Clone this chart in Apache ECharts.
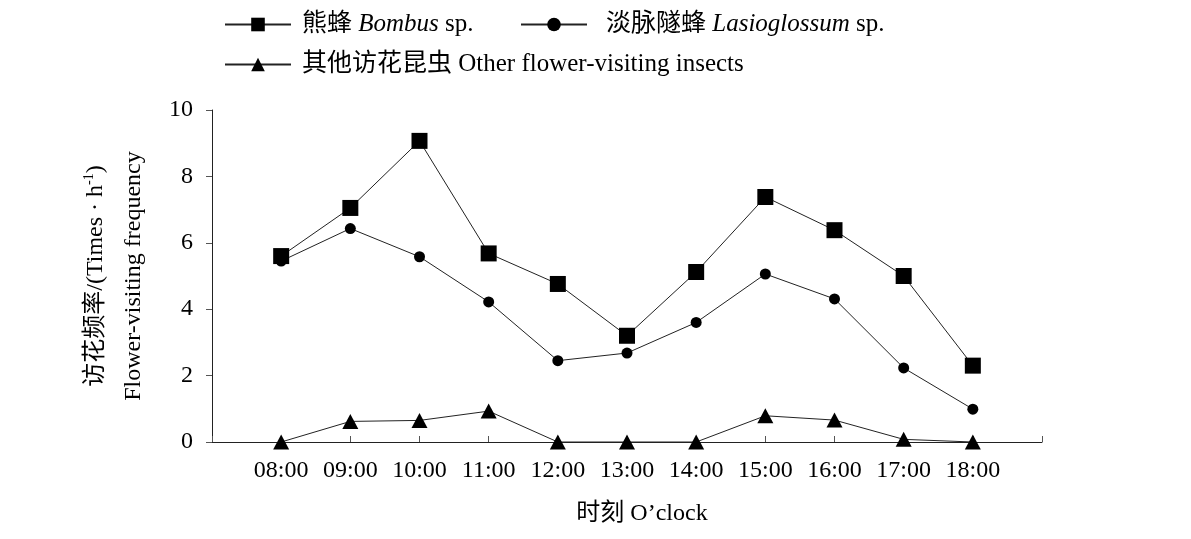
<!DOCTYPE html>
<html>
<head>
<meta charset="utf-8">
<script src="https://cdn.jsdelivr.net/npm/echarts@6/dist/echarts.min.js"></script>
<style>html,body{margin:0;padding:0;background:#fff}#c{width:1191px;height:539px}</style>
</head>
<body>
<div id="c"></div>
<script>
var hours = ['08:00','09:00','10:00','11:00','12:00','13:00','14:00','15:00','16:00','17:00','18:00'];
var bombus = [5.6, 7.05, 9.07, 5.68, 4.76, 3.2, 5.12, 7.38, 6.38, 5.0, 2.3];
var lasioglossum = [5.45, 6.43, 5.58, 4.22, 2.45, 2.68, 3.6, 5.06, 4.31, 2.23, 0.99];
var others = [0, 0.62, 0.65, 0.93, 0, 0, 0, 0.79, 0.66, 0.08, 0];
var seriesNames = ['熊蜂 Bombus sp.', '淡脉隧蜂 Lasioglossum sp.', '其他访花昆虫 Other flower-visiting insects'];
var legendRich = {
  '熊蜂 Bombus sp.': '{n|熊蜂 }{i|Bombus}{n| sp.}',
  '淡脉隧蜂 Lasioglossum sp.': '{n|淡脉隧蜂 }{i|Lasioglossum}{n| sp.}',
  '其他访花昆虫 Other flower-visiting insects': '{n|其他访花昆虫 Other flower-visiting insects}'
};
var yTicks = {min: 0, max: 10, interval: 2};

var FONT = '"Liberation Serif", "Times New Roman", "Noto Sans CJK SC", serif';
var cats = [''].concat(hours).concat(['']);
function pad(a){ return [null].concat(a).concat([null]); }

var chart = echarts.init(document.getElementById('c'));
var lineCol = '#222';
function legendCfg(names, left, top, gap){
  return {
    data: names, left: left, top: top, itemWidth: 66, itemHeight: 17, itemGap: 10,
    selectedMode: false,
    formatter: function(n){ return legendRich[n]; },
    textStyle: {
      padding: [0,0,0,gap],
      rich: {
        n: {fontFamily: FONT, fontSize: 25, color: '#000'},
        i: {fontFamily: FONT, fontSize: 25, fontStyle: 'italic', color: '#000'}
      }
    }
  };
}
chart.setOption({
  animation: false,
  backgroundColor: '#fff',
  legend: [
    legendCfg([seriesNames[0]], 219, 7, 6),
    legendCfg([seriesNames[1]], 515, 7, 14),
    legendCfg([seriesNames[2]], 219, 47, 6)
  ],
  grid: {left: 212, right: 149, top: 110, bottom: 97},
  xAxis: {
    type: 'category', data: cats, boundaryGap: false,
    axisLine: {lineStyle: {color: lineCol, width: 1}},
    axisTick: {inside: true, length: 6, interval: 0, lineStyle: {color: '#555'}},
    axisLabel: {interval: 0, margin: 17, fontFamily: FONT, fontSize: 24, color: '#000'},
    name: '时刻 O\u2019clock', nameLocation: 'middle', nameGap: 60,
    nameTextStyle: {fontFamily: FONT, fontSize: 24, color: '#000', padding: [0,0,0,30]}
  },
  yAxis: {
    type: 'value', min: yTicks.min, max: yTicks.max, interval: yTicks.interval,
    splitLine: {show: false},
    axisLine: {show: true, lineStyle: {color: lineCol, width: 1}},
    axisTick: {show: true, length: 6, lineStyle: {color: '#555'}},
    axisLabel: {margin: 19, fontFamily: FONT, fontSize: 24, color: '#000'},
    name: '{a|访花频率/(Times · h}{s|-1}{a|)}\n{a|Flower-visiting frequency}',
    nameLocation: 'middle', nameGap: 59, nameRotate: 90,
    nameTextStyle: {
      lineHeight: 38,
      rich: {
        a: {fontFamily: FONT, fontSize: 24, color: '#000', lineHeight: 38},
        s: {fontFamily: FONT, fontSize: 14, color: '#000', lineHeight: 38, padding: [0,0,13,0]}
      }
    }
  },
  series: [
    {name: seriesNames[0], type: 'line', data: pad(bombus), symbol: 'rect', symbolSize: 16,
     itemStyle: {color: '#000'}, lineStyle: {color: lineCol, width: 1}},
    {name: seriesNames[1], type: 'line', data: pad(lasioglossum), symbol: 'circle', symbolSize: 11,
     itemStyle: {color: '#000'}, lineStyle: {color: lineCol, width: 1}},
    {name: seriesNames[2], type: 'line', data: pad(others), symbol: 'triangle', symbolSize: [16, 15],
     itemStyle: {color: '#000'}, lineStyle: {color: lineCol, width: 1}}
  ]
});
</script>
</body>
</html>
